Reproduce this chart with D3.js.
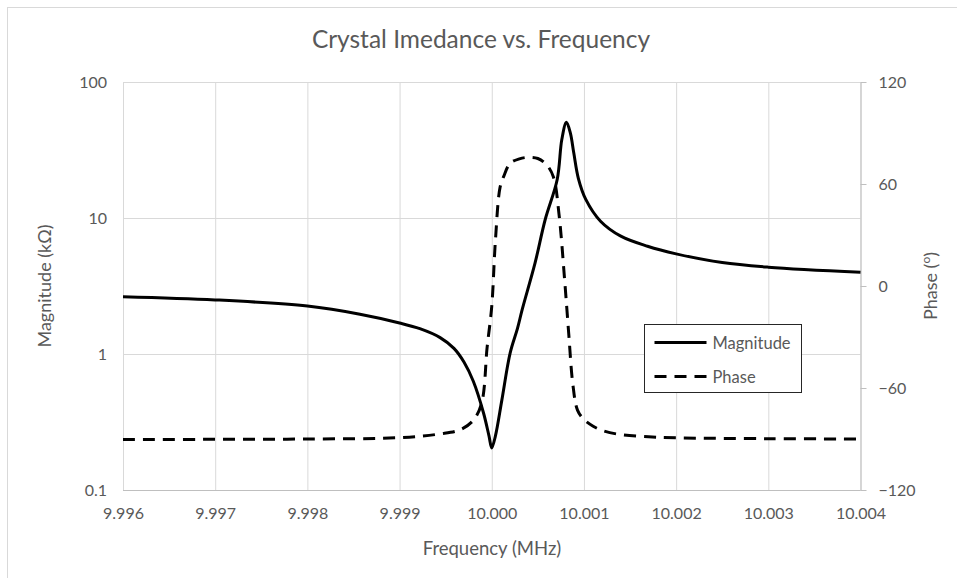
<!DOCTYPE html>
<html>
<head>
<meta charset="utf-8">
<script src="https://cdn.jsdelivr.net/npm/d3@7"></script>
<style>
  body { margin: 0; background: #fff; }
  text { font-family: Lato, "Open Sans", sans-serif; fill: #595959; }
</style>
</head>
<body>
<div class="chart"></div>
<script>
// DATA ----------------------------------------
const magFreq = [9.996, 9.997, 9.998, 9.99857, 9.999, 9.99922, 9.99944, 9.99959, 9.9997, 9.9998,
  9.99991, 9.99997, 10.0, 10.00004, 10.00011, 10.0002, 10.00028, 10.00033, 10.00047, 10.00058,
  10.00071, 10.00076, 10.00081, 10.000853, 10.00089, 10.00094, 10.00102, 10.00118, 10.0014, 10.00169,
  10.002, 10.0025, 10.003, 10.004];
const magValue = [2.64, 2.50, 2.25, 1.96, 1.69, 1.535, 1.32, 1.10, 0.87, 0.63,
  0.37, 0.25, 0.204, 0.25, 0.46, 1.02, 1.55, 2.12, 4.68, 9.75,
  19.2, 37.8, 50.6, 42, 30, 19.5, 13.7, 9.47, 7.35, 6.2,
  5.45, 4.7, 4.35, 3.99];

const phaseFreq = [9.996, 9.997, 9.998, 9.999, 9.99944, 9.99966, 9.9998, 9.99989, 9.99995, 10.0,
  10.00004, 10.00009, 10.00013, 10.0002, 10.0003, 10.0004, 10.0005, 10.0006, 10.00067, 10.00073,
  10.00079, 10.000835, 10.00088, 10.00093, 10.001, 10.0011, 10.0012, 10.00135, 10.0017, 10.002,
  10.003, 10.004];
const phaseValue = [-90.3, -90.2, -90, -89.2, -87, -84.5, -79, -69, -36, -12,
  27, 58, 64.5, 72.2, 74.8, 75.7, 75, 71, 64, 42,
  4, -28, -58, -73, -78.5, -82.5, -85, -87, -88.7, -89.3,
  -89.8, -90];

const xTicks = [9.996, 9.997, 9.998, 9.999, 10.000, 10.001, 10.002, 10.003, 10.004];
const magTicks = [0.1, 1, 10, 100];
const phaseTicks = [-120, -60, 0, 60, 120];

// CHART INIT ----------------------------------------
const W = 957, H = 578;
const plot = {left: 123, right: 860.5, top: 82, bottom: 490};

const svg = d3.select('.chart').append('svg')
  .attr('width', W)
  .attr('height', H);

svg.append('rect')
  .attr('x', 7.5).attr('y', 7.5)
  .attr('width', W + 10).attr('height', H + 10)
  .attr('fill', '#fff')
  .attr('stroke', '#d9d9d9');

const xScale = d3.scaleLinear().domain([9.996, 10.004]).range([plot.left, plot.right]);
const yMag = d3.scaleLog().domain([0.1, 100]).range([plot.bottom, plot.top]);
const yPhase = d3.scaleLinear().domain([-120, 120]).range([plot.bottom, plot.top]);

// gridlines
svg.append('g')
  .attr('class', 'grid-x')
  .attr('transform', `translate(0, ${plot.bottom})`)
  .call(d3.axisBottom(xScale).tickValues(xTicks).tickSize(-(plot.bottom - plot.top)).tickFormat(''))
  .call(g => g.select('.domain').remove())
  .call(g => g.selectAll('line').attr('stroke', '#d9d9d9'));

svg.append('g')
  .attr('class', 'grid-y')
  .attr('transform', `translate(${plot.left}, 0)`)
  .call(d3.axisLeft(yMag).tickValues(magTicks).tickSize(-(plot.right - plot.left)).tickFormat(''))
  .call(g => g.select('.domain').remove())
  .call(g => g.selectAll('line').attr('stroke', '#d9d9d9'));

// bottom axis line
svg.append('line')
  .attr('x1', plot.left).attr('x2', plot.right)
  .attr('y1', plot.bottom + 0.5).attr('y2', plot.bottom + 0.5)
  .attr('stroke', '#bfbfbf');

// x tick labels
svg.append('g')
  .attr('transform', `translate(0, ${plot.bottom})`)
  .call(d3.axisBottom(xScale).tickValues(xTicks).tickSize(0).tickPadding(18).tickFormat(d3.format('.3f')))
  .call(g => g.select('.domain').remove())
  .call(g => g.selectAll('text').attr('font-size', 16).attr('fill', '#595959').attr('font-family', 'Lato'));

// left axis labels
svg.append('g')
  .attr('transform', `translate(${plot.left}, 0)`)
  .call(d3.axisLeft(yMag).tickValues(magTicks).tickSize(0).tickPadding(16).tickFormat(d => d === 0.1 ? '0.1' : d3.format('d')(d)))
  .call(g => g.select('.domain').remove())
  .call(g => g.selectAll('text').attr('font-size', 16).attr('fill', '#595959').attr('font-family', 'Lato'));

// right axis
svg.append('g')
  .attr('transform', `translate(${plot.right}, 0)`)
  .call(d3.axisRight(yPhase).tickValues(phaseTicks).tickSize(6).tickPadding(12).tickSizeOuter(0))
  .call(g => g.select('.domain').attr('stroke', '#bfbfbf'))
  .call(g => g.selectAll('line').attr('stroke', '#bfbfbf'))
  .call(g => g.selectAll('text').attr('font-size', 16).attr('fill', '#595959').attr('font-family', 'Lato'));

// lines
const magLine = d3.line()
  .x((d, i) => xScale(magFreq[i]))
  .y(d => yMag(d))
  .curve(d3.curveCatmullRom.alpha(0.5));

const phaseLine = d3.line()
  .x((d, i) => xScale(phaseFreq[i]))
  .y(d => yPhase(d))
  .curve(d3.curveCatmullRom.alpha(0.5));

svg.append('path')
  .datum(phaseValue)
  .attr('d', phaseLine)
  .attr('fill', 'none')
  .attr('stroke', '#000')
  .attr('stroke-width', 3)
  .attr('stroke-dasharray', '12,8');

svg.append('path')
  .datum(magValue)
  .attr('d', magLine)
  .attr('fill', 'none')
  .attr('stroke', '#000')
  .attr('stroke-width', 3);

// titles
svg.append('text')
  .attr('x', 481).attr('y', 48)
  .attr('text-anchor', 'middle')
  .attr('font-size', 24.5)
  .text('Crystal Imedance vs. Frequency');

svg.append('text')
  .attr('x', 492).attr('y', 555)
  .attr('text-anchor', 'middle')
  .attr('font-size', 18.5)
  .text('Frequency (MHz)');

svg.append('text')
  .attr('transform', 'translate(51, 286) rotate(-90)')
  .attr('text-anchor', 'middle')
  .attr('font-size', 18)
  .text('Magnitude (kΩ)');

const phTitle = svg.append('text')
  .attr('transform', 'translate(937, 286) rotate(-90)')
  .attr('text-anchor', 'middle')
  .attr('font-size', 18);
phTitle.append('tspan').text('Phase (');
phTitle.append('tspan').attr('font-size', 12).attr('dy', -7).text('o');
phTitle.append('tspan').attr('dy', 7).text(')');

// legend
const legend = svg.append('g').attr('transform', 'translate(644.5, 324.5)');
legend.append('rect')
  .attr('width', 157).attr('height', 68)
  .attr('fill', '#fff')
  .attr('stroke', '#262626');

const legendItems = [
  {name: 'Magnitude', dash: null},
  {name: 'Phase', dash: '12,8'}
];
legendItems.forEach((item, i) => {
  const yy = 18 + i * 34;
  legend.append('line')
    .attr('x1', 10).attr('x2', 62)
    .attr('y1', yy).attr('y2', yy)
    .attr('stroke', '#000')
    .attr('stroke-width', 3)
    .attr('stroke-dasharray', item.dash);
  legend.append('text')
    .attr('x', 68).attr('y', yy + 6)
    .attr('font-size', 16.5)
    .text(item.name);
});
</script>
</body>
</html>
